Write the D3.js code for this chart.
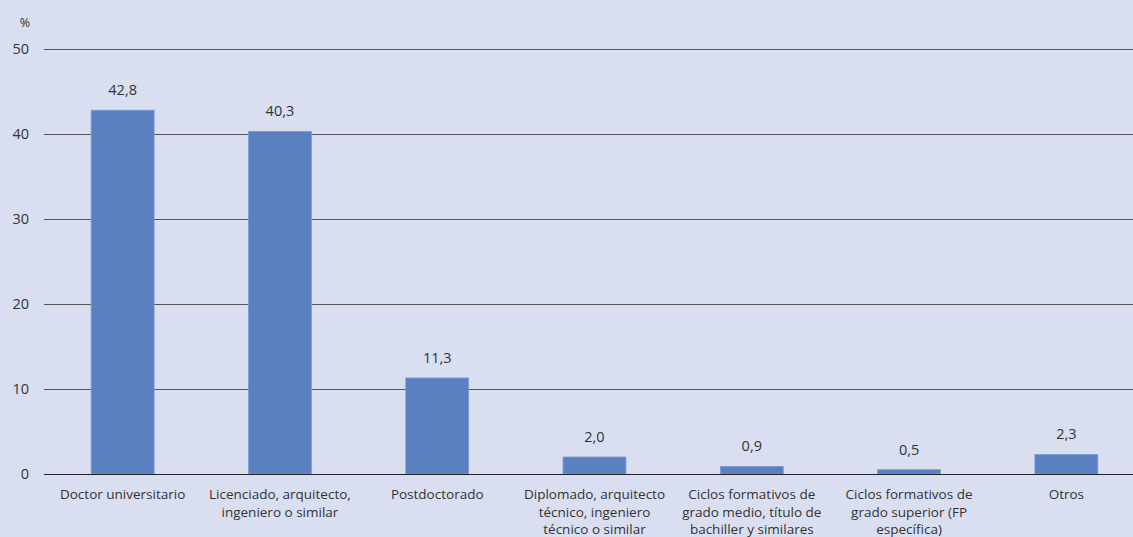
<!DOCTYPE html>
<html><head><meta charset="utf-8">
<script src="https://cdn.jsdelivr.net/npm/d3@7"></script>
<style>
html,body{margin:0;padding:0;background:#d9dff0;}
svg{display:block;}
text{font-family:"Open Sans",sans-serif;fill:#333;}
</style></head>
<body>
<svg id="c" width="1133" height="537"></svg>
<script>
const categories = [
  ["Doctor universitario"],
  ["Licenciado, arquitecto,", "ingeniero o similar"],
  ["Postdoctorado"],
  ["Diplomado, arquitecto", "técnico, ingeniero", "técnico o similar"],
  ["Ciclos formativos de", "grado medio, título de", "bachiller y similares"],
  ["Ciclos formativos de", "grado superior (FP", "específica)"],
  ["Otros"]
];
const values = [42.8, 40.3, 11.3, 2.0, 0.9, 0.5, 2.3];
const yTicks = [0, 10, 20, 30, 40, 50];
const unitLabel = "%";

(function() {
const svg = d3.select("#c");
const W = 1133, H = 537;
const mLeft = 44, mRight = 1145, mTop = 49, mBottom = 474;

const x = d3.scaleBand().domain(d3.range(categories.length)).range([mLeft, mRight])
  .paddingInner(0.6).paddingOuter(0.3);
const y = d3.scaleLinear().domain([0, 50]).range([mBottom, mTop]);

svg.append("rect").attr("width", W).attr("height", H).attr("fill", "#d9dff0");

svg.append("g").selectAll("line").data(yTicks.filter(d => d > 0)).join("line")
  .attr("x1", mLeft).attr("x2", mRight)
  .attr("y1", d => Math.round(y(d)) + 0.5).attr("y2", d => Math.round(y(d)) + 0.5)
  .attr("stroke", "#555").attr("stroke-width", 1);

svg.append("g").selectAll("text").data(yTicks).join("text")
  .attr("x", 29).attr("y", d => y(d)).attr("dy", "0.35em")
  .attr("text-anchor", "end").style("font-size", "14.5px")
  .text(d => d);

svg.append("text").attr("x", 25).attr("y", 27).attr("text-anchor", "middle")
  .style("font-size", "12.5px").text(unitLabel);

svg.append("g").selectAll("rect").data(values).join("rect")
  .attr("x", (d, i) => x(i)).attr("width", x.bandwidth())
  .attr("y", d => y(d)).attr("height", d => y(0) - y(d))
  .attr("fill", "#5b80c1").attr("stroke", "#7a9bd2").attr("stroke-width", 0.8);

svg.append("line").attr("x1", mLeft).attr("x2", mRight)
  .attr("y1", Math.round(y(0)) + 0.5).attr("y2", Math.round(y(0)) + 0.5)
  .attr("stroke", "#222").attr("stroke-width", 1.2);

svg.append("g").selectAll("text").data(values).join("text")
  .attr("x", (d, i) => x(i) + x.bandwidth() / 2).attr("y", d => y(d) - 15)
  .attr("text-anchor", "middle").style("font-size", "14.5px")
  .text(d => d.toFixed(1).replace(".", ","));

const cat = svg.append("g").selectAll("text").data(categories).join("text")
  .attr("x", (d, i) => x(i) + x.bandwidth() / 2).attr("y", 499)
  .attr("text-anchor", "middle").style("font-size", "13.5px");
cat.each(function(lines, i) {
  d3.select(this).selectAll("tspan").data(lines).join("tspan")
    .attr("x", x(i) + x.bandwidth() / 2).attr("dy", (l, j) => j === 0 ? 0 : 17.5)
    .text(l => l);
});
})();
</script>
</body></html>
